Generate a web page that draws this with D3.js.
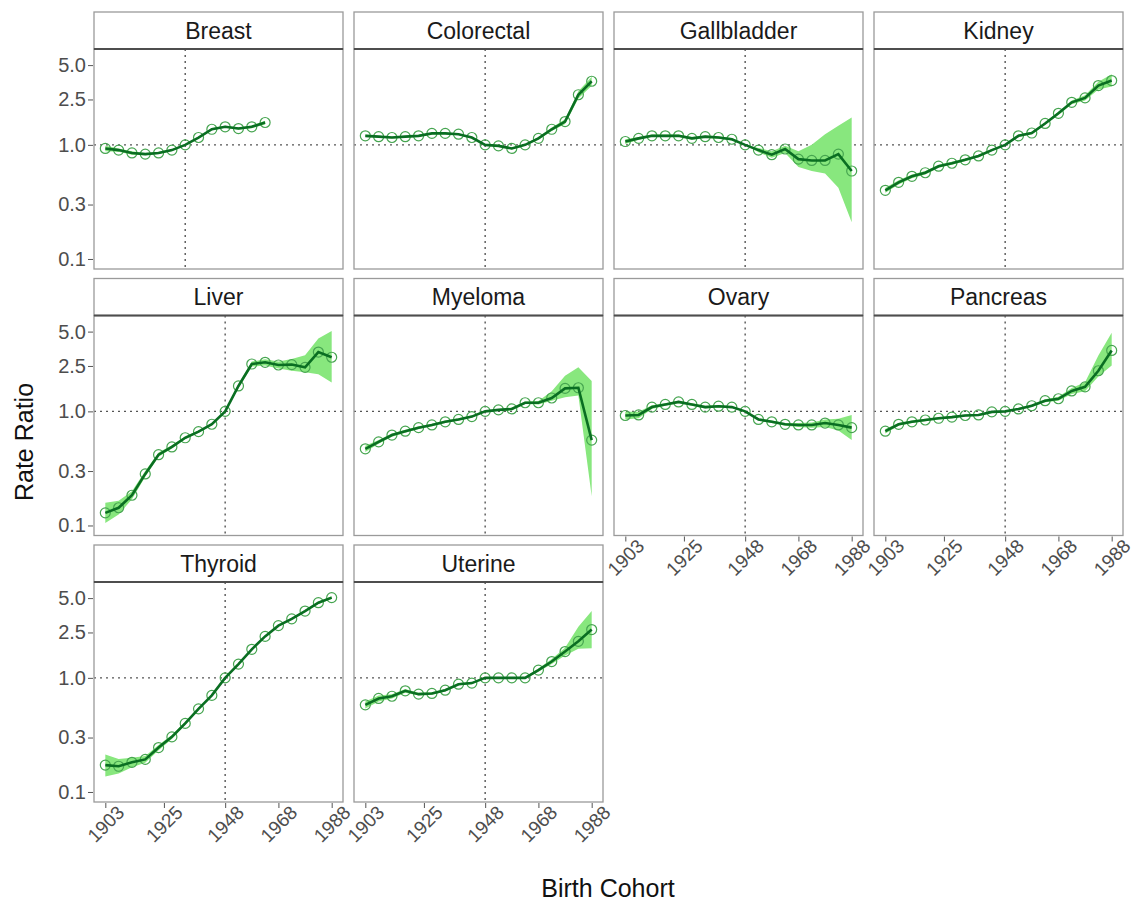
<!DOCTYPE html>
<html>
<head>
<meta charset="utf-8">
<script src="https://cdn.jsdelivr.net/npm/d3@7"></script>
<style>
  body { margin: 0; background: #fff; }
  svg { font-family: "Liberation Sans", Arial, sans-serif; }
</style>
</head>
<body>
<section></section>
<script>
const WIDTH = 1136;
const HEIGHT = 901;

// birth cohorts (5-year steps)
const cohorts = [1903, 1908, 1913, 1918, 1923, 1928, 1933, 1938, 1943, 1948, 1953, 1958, 1963, 1968, 1973, 1978, 1983, 1988];
const xTicks = [1903, 1925, 1948, 1968, 1988];
const yTicks = [0.1, 0.3, 1.0, 2.5, 5.0];
const yTickLabels = ["0.1", "0.3", "1.0", "2.5", "5.0"];

const cancers = ["Breast", "Colorectal", "Gallbladder", "Kidney", "Liver", "Myeloma", "Ovary", "Pancreas", "Thyroid", "Uterine"];
const refCohort = [1933, 1948, 1948, 1948, 1948, 1948, 1948, 1948, 1948, 1948];

// rate ratios and 95% CI
const breastRR = [0.93, 0.90, 0.85, 0.83, 0.85, 0.90, 1.00, 1.16, 1.37, 1.44, 1.39, 1.44, 1.57];
const breastLo = [0.88, 0.87, 0.82, 0.81, 0.83, 0.88, 1.00, 1.14, 1.34, 1.41, 1.36, 1.40, 1.51];
const breastHi = [0.98, 0.93, 0.88, 0.85, 0.87, 0.92, 1.00, 1.18, 1.40, 1.47, 1.42, 1.48, 1.63];

const colorectalRR = [1.20, 1.18, 1.16, 1.18, 1.20, 1.26, 1.26, 1.24, 1.16, 1.00, 0.98, 0.93, 1.00, 1.14, 1.37, 1.60, 2.75, 3.61];
const colorectalLo = [1.17, 1.16, 1.14, 1.16, 1.18, 1.24, 1.24, 1.22, 1.14, 1.00, 0.96, 0.91, 0.98, 1.11, 1.32, 1.52, 2.55, 3.30];
const colorectalHi = [1.23, 1.20, 1.18, 1.20, 1.22, 1.28, 1.28, 1.26, 1.18, 1.00, 1.00, 0.95, 1.02, 1.17, 1.42, 1.68, 2.95, 3.95];

const gallbladderRR = [1.07, 1.14, 1.20, 1.20, 1.20, 1.14, 1.18, 1.16, 1.12, 1.00, 0.90, 0.82, 0.92, 0.75, 0.73, 0.73, 0.83, 0.59];
const gallbladderLo = [1.02, 1.11, 1.17, 1.17, 1.17, 1.11, 1.15, 1.13, 1.09, 1.00, 0.86, 0.77, 0.85, 0.64, 0.59, 0.56, 0.42, 0.21];
const gallbladderHi = [1.12, 1.17, 1.23, 1.23, 1.23, 1.17, 1.21, 1.19, 1.15, 1.00, 0.94, 0.88, 0.98, 0.88, 1.00, 1.24, 1.47, 1.74];

const kidneyRR = [0.40, 0.47, 0.53, 0.57, 0.65, 0.69, 0.74, 0.80, 0.90, 1.00, 1.20, 1.27, 1.54, 1.89, 2.36, 2.58, 3.31, 3.66];
const kidneyLo = [0.38, 0.45, 0.51, 0.55, 0.63, 0.67, 0.72, 0.78, 0.88, 1.00, 1.17, 1.24, 1.50, 1.83, 2.27, 2.45, 3.05, 3.25];
const kidneyHi = [0.42, 0.49, 0.55, 0.59, 0.67, 0.71, 0.76, 0.82, 0.92, 1.00, 1.23, 1.30, 1.58, 1.95, 2.45, 2.72, 3.58, 4.15];

const liverRR = [0.129, 0.143, 0.184, 0.283, 0.417, 0.488, 0.587, 0.664, 0.771, 1.00, 1.67, 2.60, 2.69, 2.55, 2.57, 2.43, 3.31, 2.98];
const liverLo = [0.105, 0.125, 0.170, 0.268, 0.400, 0.472, 0.570, 0.648, 0.755, 1.00, 1.60, 2.47, 2.52, 2.38, 2.27, 2.20, 2.12, 1.79];
const liverHi = [0.158, 0.165, 0.200, 0.300, 0.435, 0.505, 0.605, 0.680, 0.788, 1.00, 1.74, 2.73, 2.86, 2.73, 2.88, 3.10, 4.34, 5.05];

const myelomaRR = [0.47, 0.54, 0.62, 0.67, 0.72, 0.76, 0.81, 0.85, 0.90, 1.00, 1.03, 1.05, 1.19, 1.19, 1.31, 1.59, 1.61, 0.56];
const myelomaLo = [0.44, 0.52, 0.60, 0.65, 0.70, 0.74, 0.79, 0.83, 0.88, 1.00, 1.01, 1.02, 1.16, 1.15, 1.24, 1.33, 1.38, 0.18];
const myelomaHi = [0.50, 0.56, 0.64, 0.69, 0.74, 0.78, 0.83, 0.87, 0.92, 1.00, 1.05, 1.08, 1.22, 1.23, 1.50, 2.05, 2.43, 1.85];

const ovaryRR = [0.92, 0.93, 1.09, 1.15, 1.21, 1.15, 1.09, 1.11, 1.09, 1.00, 0.85, 0.81, 0.77, 0.76, 0.76, 0.79, 0.76, 0.72];
const ovaryLo = [0.85, 0.87, 1.05, 1.12, 1.18, 1.12, 1.06, 1.08, 1.07, 1.00, 0.83, 0.79, 0.75, 0.73, 0.72, 0.73, 0.68, 0.56];
const ovaryHi = [0.99, 0.99, 1.13, 1.18, 1.24, 1.18, 1.12, 1.14, 1.11, 1.00, 0.87, 0.83, 0.79, 0.79, 0.80, 0.85, 0.86, 0.93];

const pancreasRR = [0.67, 0.77, 0.81, 0.84, 0.87, 0.89, 0.92, 0.93, 0.99, 1.00, 1.05, 1.12, 1.24, 1.29, 1.51, 1.64, 2.27, 3.42];
const pancreasLo = [0.64, 0.75, 0.79, 0.82, 0.85, 0.87, 0.90, 0.91, 0.97, 1.00, 1.03, 1.09, 1.20, 1.24, 1.42, 1.50, 2.02, 2.52];
const pancreasHi = [0.70, 0.79, 0.83, 0.86, 0.89, 0.91, 0.94, 0.95, 1.01, 1.00, 1.07, 1.15, 1.28, 1.34, 1.60, 1.80, 3.09, 4.88];

const thyroidRR = [0.172, 0.168, 0.182, 0.193, 0.245, 0.304, 0.399, 0.535, 0.702, 1.00, 1.32, 1.78, 2.31, 2.87, 3.29, 3.85, 4.56, 5.05];
const thyroidLo = [0.137, 0.145, 0.165, 0.180, 0.232, 0.292, 0.386, 0.522, 0.690, 1.00, 1.30, 1.75, 2.27, 2.82, 3.23, 3.77, 4.45, 4.90];
const thyroidHi = [0.213, 0.195, 0.200, 0.207, 0.258, 0.316, 0.412, 0.548, 0.714, 1.00, 1.34, 1.81, 2.35, 2.92, 3.35, 3.93, 4.67, 5.20];

const uterineRR = [0.58, 0.66, 0.69, 0.77, 0.72, 0.73, 0.78, 0.88, 0.90, 1.00, 1.00, 1.00, 1.00, 1.17, 1.39, 1.70, 2.09, 2.65];
const uterineLo = [0.54, 0.62, 0.66, 0.74, 0.70, 0.71, 0.76, 0.86, 0.88, 1.00, 0.98, 0.98, 0.98, 1.13, 1.32, 1.57, 1.80, 1.82];
const uterineHi = [0.62, 0.70, 0.72, 0.80, 0.74, 0.75, 0.80, 0.90, 0.92, 1.00, 1.02, 1.02, 1.02, 1.21, 1.46, 1.84, 2.80, 3.85];

const seriesRR = [breastRR, colorectalRR, gallbladderRR, kidneyRR, liverRR, myelomaRR, ovaryRR, pancreasRR, thyroidRR, uterineRR];
const seriesLo = [breastLo, colorectalLo, gallbladderLo, kidneyLo, liverLo, myelomaLo, ovaryLo, pancreasLo, thyroidLo, uterineLo];
const seriesHi = [breastHi, colorectalHi, gallbladderHi, kidneyHi, liverHi, myelomaHi, ovaryHi, pancreasHi, thyroidHi, uterineHi];

// facet layout
const NCOL = 4;
const COL_X = [94, 354, 614, 874];
const ROW_Y = [12, 278.5, 545];
const PANEL_W = 249;
const STRIP_H = 37;
const PLOT_H = 220;

const svg = d3.select("section")
  .append("svg")
  .attr("width", WIDTH)
  .attr("height", HEIGHT);

cancers.forEach((name, k) => {
  const col = k % NCOL;
  const row = Math.floor(k / NCOL);
  const left = COL_X[col];
  const stripTop = ROW_Y[row];
  const top = stripTop + STRIP_H;
  const bottom = top + PLOT_H;

  const xScale = d3.scaleLinear()
    .domain([1898.75, 1992.25])
    .range([left, left + PANEL_W]);
  const yScale = d3.scaleLog()
    .domain([0.0817, 6.92])
    .range([bottom, top]);

  const data = seriesRR[k].map((v, i) => ({
    year: cohorts[i], rr: v, lo: seriesLo[k][i], hi: seriesHi[k][i]
  }));

  const g = svg.append("g").attr("class", "panel");

  // reference lines
  g.append("line")
    .attr("x1", left).attr("x2", left + PANEL_W)
    .attr("y1", yScale(1)).attr("y2", yScale(1))
    .attr("stroke", "#555").attr("stroke-width", 1.4)
    .attr("stroke-dasharray", "2,4");
  g.append("line")
    .attr("x1", xScale(refCohort[k])).attr("x2", xScale(refCohort[k]))
    .attr("y1", top).attr("y2", bottom)
    .attr("stroke", "#555").attr("stroke-width", 1.4)
    .attr("stroke-dasharray", "2,4");

  // confidence band
  const area = d3.area()
    .x(d => xScale(d.year))
    .y0(d => yScale(d.lo))
    .y1(d => yScale(d.hi));
  g.append("path")
    .datum(data)
    .attr("d", area)
    .attr("fill", "#88e77e");

  // points
  g.selectAll("circle")
    .data(data)
    .enter()
    .append("circle")
    .attr("cx", d => xScale(d.year))
    .attr("cy", d => yScale(d.rr))
    .attr("r", 5)
    .attr("fill", "none")
    .attr("stroke", "#46a550")
    .attr("stroke-width", 1.2);

  // line
  const line = d3.line()
    .x(d => xScale(d.year))
    .y(d => yScale(d.rr));
  g.append("path")
    .datum(data)
    .attr("d", line)
    .attr("fill", "none")
    .attr("stroke", "#0a6e22")
    .attr("stroke-width", 2.6);

  // panel border
  g.append("rect")
    .attr("x", left).attr("y", top)
    .attr("width", PANEL_W).attr("height", PLOT_H)
    .attr("fill", "none")
    .attr("stroke", "#9a9a9a").attr("stroke-width", 1.3);

  // strip
  g.append("rect")
    .attr("x", left).attr("y", stripTop)
    .attr("width", PANEL_W).attr("height", STRIP_H)
    .attr("fill", "#fff")
    .attr("stroke", "#9a9a9a").attr("stroke-width", 1.3);
  g.append("line")
    .attr("x1", left).attr("x2", left + PANEL_W)
    .attr("y1", top).attr("y2", top)
    .attr("stroke", "#4d4d4d").attr("stroke-width", 2);
  g.append("text")
    .attr("x", left + PANEL_W / 2)
    .attr("y", stripTop + STRIP_H / 2 + 8)
    .attr("text-anchor", "middle")
    .attr("font-size", 23)
    .attr("fill", "#1a1a1a")
    .text(name);

  // y axis on first column
  if (col === 0) {
    const yAxis = d3.axisLeft(yScale)
      .tickValues(yTicks)
      .tickFormat((d, i) => yTickLabels[i])
      .tickSize(5)
      .tickPadding(2);
    const ya = g.append("g")
      .attr("transform", "translate(" + (left - 1) + ",0)")
      .call(yAxis);
    ya.select(".domain").remove();
    ya.selectAll("line").attr("stroke", "#555");
    ya.selectAll("text")
      .attr("font-size", 20)
      .attr("fill", "#4d4d4d")
      .attr("font-family", "Liberation Sans, Arial, sans-serif");
  }

  // x axis on bottom panel of each column
  const lastInCol = k + NCOL >= cancers.length;
  if (lastInCol) {
    const xAxis = d3.axisBottom(xScale)
      .tickValues(xTicks)
      .tickFormat(d3.format("d"))
      .tickSize(5);
    const xa = g.append("g")
      .attr("transform", "translate(0," + (bottom + 1) + ")")
      .call(xAxis);
    xa.select(".domain").remove();
    xa.selectAll("line").attr("stroke", "#555");
    xa.selectAll("text")
      .attr("font-size", 19)
      .attr("fill", "#4d4d4d")
      .attr("font-family", "Liberation Sans, Arial, sans-serif")
      .attr("text-anchor", "middle")
      .attr("dy", null)
      .attr("y", 0)
      .attr("dominant-baseline", "central")
      .attr("transform", "translate(0,21) rotate(-45)");
  }
});

// axis titles
svg.append("text")
  .attr("x", 608)
  .attr("y", 897)
  .attr("text-anchor", "middle")
  .attr("font-size", 25)
  .attr("fill", "#111")
  .text("Birth Cohort");

svg.append("text")
  .attr("transform", "translate(33,442) rotate(-90)")
  .attr("text-anchor", "middle")
  .attr("font-size", 25)
  .attr("fill", "#111")
  .text("Rate Ratio");
</script>
</body>
</html>
